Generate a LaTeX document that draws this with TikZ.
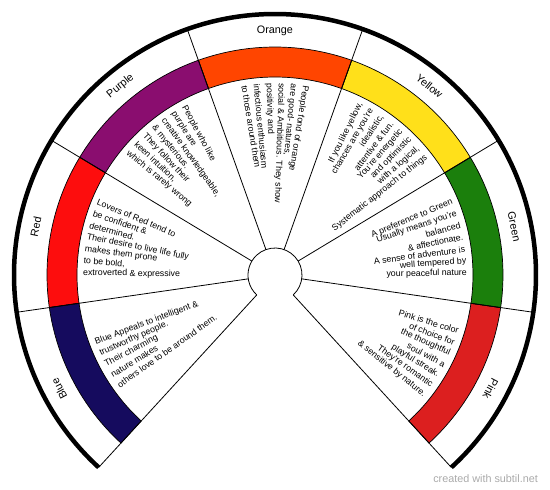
\documentclass[tikz,border=0pt]{standalone}
\usepackage{fontspec}
\setmainfont{Liberation Sans}
\definecolor{pinkC}{HTML}{DC1F1F}
\definecolor{greenC}{HTML}{1B7F0C}
\definecolor{yellowC}{HTML}{FFE01A}
\definecolor{orangeC}{HTML}{FF4500}
\definecolor{purpleC}{HTML}{8A0D6F}
\definecolor{redC}{HTML}{FD0D0D}
\definecolor{blueC}{HTML}{150B5E}
\definecolor{markC}{HTML}{AAAAAA}
\tikzset{
  desc/.style={inner sep=0pt, font=\fontsize{8.8}{10}\selectfont},
  lbl/.style={inner sep=0pt, font=\fontsize{10.8}{12}\selectfont},
  rad/.style={line width=0.8pt, draw=black},
  band/.style={draw=black, line width=0.7pt},
  rim/.style={line width=4.5pt, draw=black},
}
\newcommand\wheelin[4]{\pgfmathsetmacro\wang{#1+(#2)*3.65}\node[desc,anchor=west,rotate=\wang-180] (#4) at (\wang:192pt) {#3};}
\newcommand\wheelout[4]{\pgfmathsetmacro\wang{#1-(#2)*3.65}\node[desc,anchor=east,rotate=\wang] (#4) at (\wang:192pt) {#3};}
\begin{document}
\begin{tikzpicture}
\useasboundingbox (-275pt,-215pt) rectangle (275pt,275pt);
% colour band and labels
\foreach \i/\col/\nm in {0/pinkC/Pink,1/greenC/Green,2/yellowC/Yellow,3/orangeC/Orange,4/purpleC/Purple,5/redC/Red,6/blueC/Blue}{
  \pgfmathsetmacro\aa{-47.5+\i*39.2857}
  \pgfmathsetmacro\ab{\aa+39.2857}
  \pgfmathsetmacro\ac{\aa+19.64285}
  \filldraw[band, fill=\col] (\aa:198pt) arc[start angle=\aa, end angle=\ab, radius=198pt]
     -- (\ab:228pt) arc[start angle=\ab, end angle=\aa, radius=228pt] -- cycle;
  \node[lbl, rotate=\ac-90] (lbl\nm) at (\ac:244pt) {\nm};
}
% radial lines
\foreach \k in {0,...,7}{
  \pgfmathsetmacro\ak{-47.5+\k*39.2857}
  \draw[rad] (\ak:27pt) -- (\ak:261pt);
}
\draw[rad] (-47.5:27pt) arc[start angle=-47.5, end angle=227.5, radius=27pt];
\draw[rim] (-47.5:261pt) arc[start angle=-47.5, end angle=227.5, radius=261pt];
% Orange
\wheelin{90}{-2.5}{People fond of orange}{o1}
\wheelin{90}{-1.5}{are good- natures,}{o2}
\wheelin{90}{-0.5}{social \& Ambitious. They show}{o3}
\wheelin{90}{0.5}{positivity and}{o4}
\wheelin{90}{1.5}{infectious enthusiasm}{o5}
\wheelin{90}{2.5}{to those around them}{o6}
% Purple
\wheelin{129.2857}{-3}{People who like}{p1}
\wheelin{129.2857}{-2}{purple are}{p2}
\wheelin{129.2857}{-1}{creative knowledgeable,}{p3}
\wheelin{129.2857}{0}{\& mysterious.}{p4}
\wheelin{129.2857}{1}{They follow their}{p5}
\wheelin{129.2857}{2}{keen intuition,}{p6}
\wheelin{129.2857}{3}{which is rarely wrong}{p7}
% Red
\wheelin{168.5714}{-3}{Lovers of Red tend to}{r1}
\wheelin{168.5714}{-2}{be confident \&}{r2}
\wheelin{168.5714}{-1}{determined.}{r3}
\wheelin{168.5714}{0}{Their desire to live life fully}{r4}
\wheelin{168.5714}{1}{makes them prone}{r5}
\wheelin{168.5714}{2}{to be bold,}{r6}
\wheelin{168.5714}{3}{extroverted \& expressive}{r7}
% Blue
\wheelin{207.8571}{-2}{Blue Appeals to intelligent \&}{b1}
\wheelin{207.8571}{-1}{trustworthy people.}{b2}
\wheelin{207.8571}{0}{Their charming}{b3}
\wheelin{207.8571}{1}{nature makes}{b4}
\wheelin{207.8571}{2}{others love to be around them.}{b5}
% Yellow
\wheelout{50.7143}{-3.5}{If you like yellow,}{y1}
\wheelout{50.7143}{-2.5}{chances are you're}{y2}
\wheelout{50.7143}{-1.5}{idealistic,}{y3}
\wheelout{50.7143}{-0.5}{attentive \& fun.}{y4}
\wheelout{50.7143}{0.5}{You're energetic}{y5}
\wheelout{50.7143}{1.5}{and optimistic}{y6}
\wheelout{50.7143}{2.5}{with a logical,}{y7}
\wheelout{50.7143}{3.5}{Systematic approach to things}{y8}
% Green
\wheelout{11.4286}{-3}{A preference to Green}{g1}
\wheelout{11.4286}{-2}{Usually means you're}{g2}
\wheelout{11.4286}{-1}{balanced}{g3}
\wheelout{11.4286}{0}{\& affectionate.}{g4}
\wheelout{11.4286}{1}{A sense of adventure is}{g5}
\wheelout{11.4286}{2}{well tempered by}{g6}
\wheelout{11.4286}{3}{your peaceful nature}{g7}
% Pink
\wheelout{-27.8571}{-3}{Pink is the color}{k1}
\wheelout{-27.8571}{-2}{of choice for}{k2}
\wheelout{-27.8571}{-1}{the thoughtful}{k3}
\wheelout{-27.8571}{0}{soul with a}{k4}
\wheelout{-27.8571}{1}{playful streak.}{k5}
\wheelout{-27.8571}{2}{They're romantic}{k6}
\wheelout{-27.8571}{3}{\& sensitive by nature.}{k7}
% watermark
\node[anchor=east, inner sep=0pt, text=markC, font=\fontsize{10.8}{12}\selectfont] (mark) at (263pt,-203.5pt) {created with subtil.net};
\end{tikzpicture}
\end{document}
